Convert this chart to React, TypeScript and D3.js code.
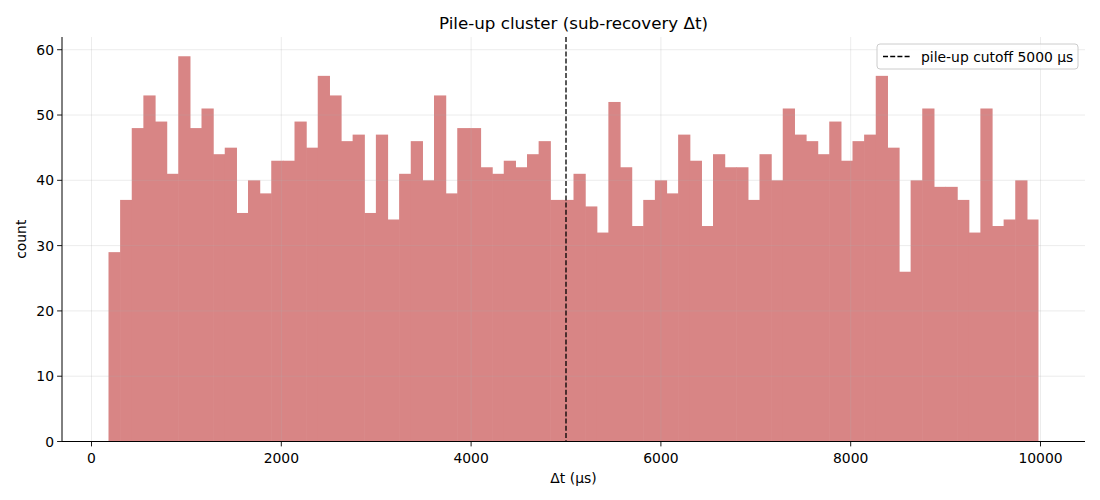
import React from "react";
import * as d3 from "d3";

const counts: number[] = [
  29, 37, 48, 53, 49, 41, 59, 48, 51, 44,
  45, 35, 40, 38, 43, 43, 49, 45, 56, 53,
  46, 47, 35, 47, 34, 41, 46, 40, 53, 38,
  48, 48, 42, 41, 43, 42, 44, 46, 37, 37,
  41, 36, 32, 52, 42, 33, 37, 40, 38, 47,
  43, 33, 44, 42, 42, 37, 44, 40, 51, 47,
  46, 44, 49, 43, 46, 47, 56, 45, 26, 40,
  51, 39, 39, 37, 32, 51, 33, 34, 40, 34,
];
const binStart = 179;
const binEnd = 9979;
const cutoff = 5000;
const xTicks: number[] = [0, 2000, 4000, 6000, 8000, 10000];
const yTicks: number[] = [0, 10, 20, 30, 40, 50, 60];
const title = "Pile-up cluster (sub-recovery Δt)";
const xLabel = "Δt (μs)";
const yLabel = "count";
const legendLabel = "pile-up cutoff 5000 μs";

const W = 1100;
const H = 500;
const left = 62;
const right = 1085;
const top = 37;
const bottom = 441.5;
const font = "DejaVu Sans, sans-serif";

export default function App() {
  const n = counts.length;
  const bw = (binEnd - binStart) / n;
  const span = binEnd - binStart;
  const x = d3
    .scaleLinear()
    .domain([binStart - span * 0.05, binEnd + span * 0.05])
    .range([left, right]);
  const maxC = d3.max(counts) as number;
  const y = d3.scaleLinear().domain([0, maxC * 1.05]).range([bottom, top]);

  return (
    <svg
      width={W}
      height={H}
      style={{ position: "absolute", left: 0, top: 0, background: "#fff" }}
      fontFamily={font}
    >
      <rect x={0} y={0} width={W} height={H} fill="#fff" />
      {counts.map((c, i) => {
        const x0 = x(binStart + i * bw);
        const x1 = x(binStart + (i + 1) * bw);
        return (
          <rect
            key={i}
            x={x0}
            y={y(c)}
            width={x1 - x0 + (i < n - 1 ? 0.6 : 0)}
            height={bottom - y(c)}
            fill="#d88585"
          />
        );
      })}
      {/* grid */}
      {xTicks.map((t) => (
        <line
          key={"gx" + t}
          x1={x(t)}
          x2={x(t)}
          y1={top}
          y2={bottom}
          stroke="#b0b0b0"
          strokeOpacity={0.3}
          strokeWidth={0.8}
        />
      ))}
      {yTicks.map((t) => (
        <line
          key={"gy" + t}
          x1={left}
          x2={right}
          y1={y(t)}
          y2={y(t)}
          stroke="#b0b0b0"
          strokeOpacity={0.3}
          strokeWidth={0.8}
        />
      ))}
      {/* cutoff */}
      <line
        x1={x(cutoff)}
        x2={x(cutoff)}
        y1={top}
        y2={bottom}
        stroke="#000"
        strokeWidth={1.3}
        strokeDasharray="5,2.2"
      />
      {/* spines */}
      <line x1={left} x2={left} y1={top} y2={bottom} stroke="#000" strokeWidth={1} />
      <line x1={left} x2={right} y1={bottom} y2={bottom} stroke="#000" strokeWidth={1} />
      {/* ticks */}
      {xTicks.map((t) => (
        <g key={"tx" + t}>
          <line x1={x(t)} x2={x(t)} y1={bottom} y2={bottom + 4.9} stroke="#000" strokeWidth={0.9} />
          <text x={x(t)} y={bottom + 21} textAnchor="middle" fontSize={13.9} fill="#000">
            {t}
          </text>
        </g>
      ))}
      {yTicks.map((t) => (
        <g key={"ty" + t}>
          <line x1={left - 4.9} x2={left} y1={y(t)} y2={y(t)} stroke="#000" strokeWidth={0.9} />
          <text x={left - 8} y={y(t) + 5} textAnchor="end" fontSize={13.9} fill="#000">
            {t}
          </text>
        </g>
      ))}
      {/* labels */}
      <text x={(left + right) / 2} y={483} textAnchor="middle" fontSize={13.9} fill="#000">
        {xLabel}
      </text>
      <text
        transform={`translate(26, ${(top + bottom) / 2}) rotate(-90)`}
        textAnchor="middle"
        fontSize={13.9}
        fill="#000"
      >
        {yLabel}
      </text>
      <text x={(left + right) / 2} y={29} textAnchor="middle" fontSize={16.7} fill="#000">
        {title}
      </text>
      {/* legend */}
      <g>
        <rect
          x={877}
          y={44}
          width={201}
          height={25}
          rx={3}
          fill="#fff"
          fillOpacity={0.8}
          stroke="#cccccc"
          strokeWidth={1}
        />
        <line x1={883} x2={911} y1={56.5} y2={56.5} stroke="#000" strokeWidth={1.3} strokeDasharray="5,2.2" />
        <text x={921} y={61.5} fontSize={13.9} fill="#000">
          {legendLabel}
        </text>
      </g>
    </svg>
  );
}
